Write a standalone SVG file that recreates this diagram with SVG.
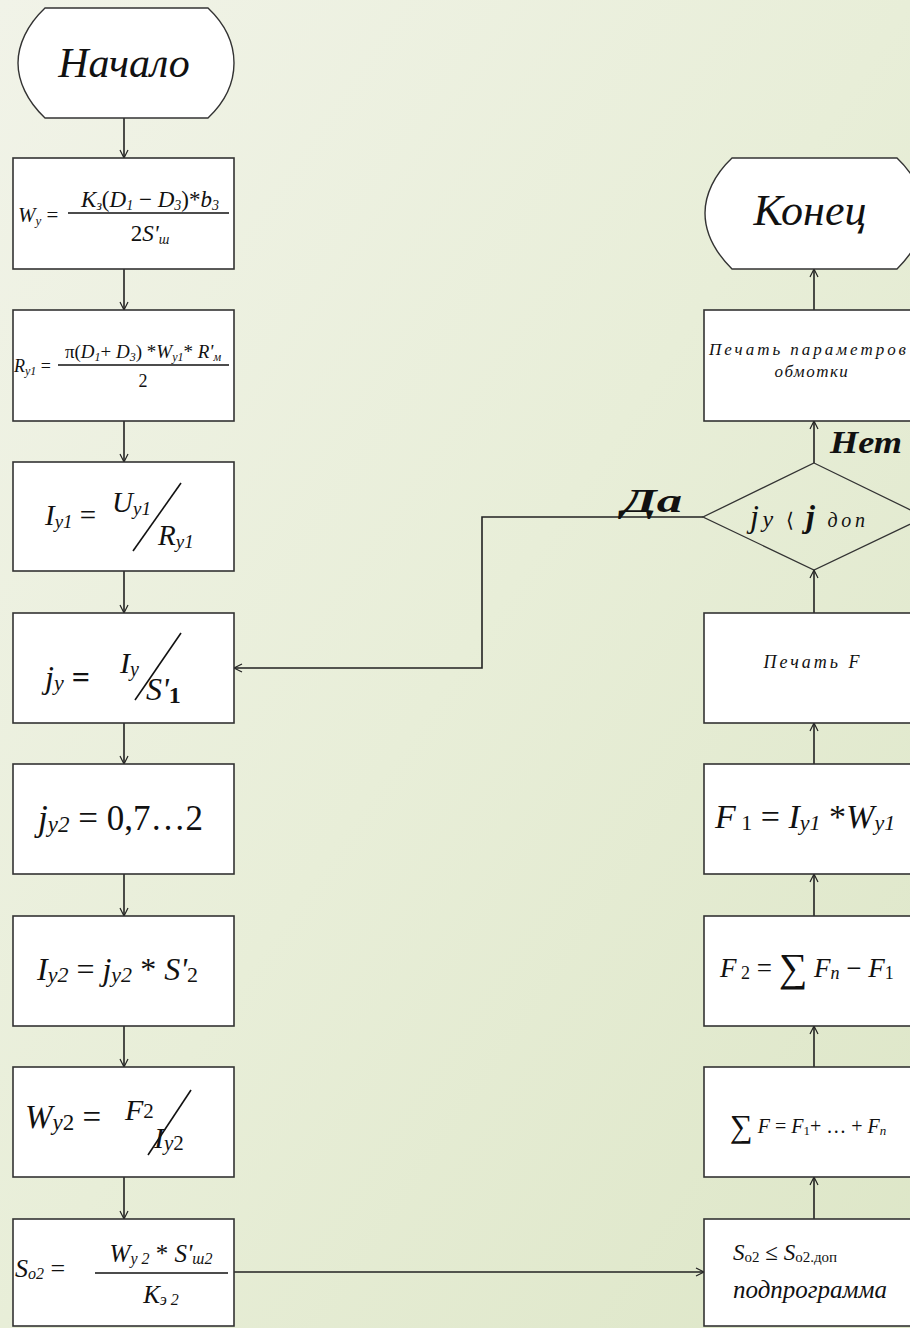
<svg xmlns="http://www.w3.org/2000/svg" width="910" height="1328" viewBox="0 0 910 1328">
<defs>
<linearGradient id="bg" x1="0" y1="0" x2="1" y2="1">
<stop offset="0" stop-color="#f1f3e8"/>
<stop offset="0.5" stop-color="#e8eed8"/>
<stop offset="1" stop-color="#dde6c7"/>
</linearGradient>
<marker id="ah" markerUnits="userSpaceOnUse" markerWidth="12" markerHeight="12" refX="9" refY="5" orient="auto">
<path d="M1,1 L9,5 L1,9" fill="none" stroke="#222" stroke-width="1.2"/>
</marker>
</defs>
<style>
.box{fill:#fff;stroke:#333;stroke-width:1.6}
.term{fill:#fff;stroke:#333;stroke-width:1.4}
.dia{fill:none;stroke:#333;stroke-width:1.3}
.con{fill:none;stroke:#222;stroke-width:1.6;marker-end:url(#ah)}
.ln{stroke:#111;stroke-width:1.6}
text{font-family:"Liberation Serif","Times New Roman",serif;fill:#111}
.it{font-style:italic}
.b{font-weight:bold}
</style>
<rect width="910" height="1328" fill="url(#bg)"/>

<g id="connectors">
<line class="con" x1="124" y1="118" x2="124" y2="158"/>
<line class="con" x1="124" y1="269" x2="124" y2="310"/>
<line class="con" x1="124" y1="421" x2="124" y2="462"/>
<line class="con" x1="124" y1="571" x2="124" y2="613"/>
<line class="con" x1="124" y1="723" x2="124" y2="764"/>
<line class="con" x1="124" y1="874" x2="124" y2="916"/>
<line class="con" x1="124" y1="1026" x2="124" y2="1067"/>
<line class="con" x1="124" y1="1177" x2="124" y2="1219"/>
<line class="con" x1="234" y1="1272" x2="704" y2="1272"/>
<line class="con" x1="814" y1="1219" x2="814" y2="1177"/>
<line class="con" x1="814" y1="1067" x2="814" y2="1026"/>
<line class="con" x1="814" y1="916" x2="814" y2="874"/>
<line class="con" x1="814" y1="764" x2="814" y2="723"/>
<line class="con" x1="814" y1="613" x2="814" y2="570"/>
<line class="con" x1="814" y1="463" x2="814" y2="421"/>
<line class="con" x1="814" y1="310" x2="814" y2="269"/>
<polyline class="con" points="703,517 482,517 482,668 234,668"/>
<text class="it b" x="622" y="512" font-size="34" textLength="60" lengthAdjust="spacingAndGlyphs">Да</text>
<text class="it b" x="830" y="453" font-size="32" textLength="72" lengthAdjust="spacingAndGlyphs">Нет</text>
</g>

<g id="start">
<path class="term" d="M45,8 L208,8 C226,25 234,45 234,63 C234,81 226,101 208,118 L45,118 C27,101 18,81 18,63 C18,45 27,25 45,8 Z"/>
<text class="it" x="124" y="77" font-size="42" text-anchor="middle">Начало</text>
</g>

<g id="box1">
<rect class="box" x="13" y="158" width="221" height="111"/>
<text class="it" x="18" y="222" font-size="21">W<tspan font-size="13" dy="3">y</tspan><tspan dy="-3" font-style="normal"> =</tspan></text>
<text class="it" x="150" y="207" font-size="23" text-anchor="middle">K<tspan font-size="14" dy="3">з</tspan><tspan dy="-3" font-style="normal">(</tspan>D<tspan font-size="14" dy="3">1</tspan><tspan dy="-3" font-style="normal"> − </tspan>D<tspan font-size="14" dy="3">3</tspan><tspan dy="-3" font-style="normal">)*</tspan>b<tspan font-size="14" dy="3">3</tspan></text>
<line class="ln" x1="68" y1="213" x2="229" y2="213"/>
<text class="it" x="150" y="241" font-size="23" text-anchor="middle"><tspan font-style="normal">2</tspan>S'<tspan font-size="14" dy="3">ш</tspan></text>
</g>

<g id="box2">
<rect class="box" x="13" y="310" width="221" height="111"/>
<text class="it" x="14" y="372" font-size="18">R<tspan font-size="12" dy="3">y1</tspan><tspan dy="-3" font-style="normal"> =</tspan></text>
<text class="it" x="143" y="358" font-size="19" text-anchor="middle"><tspan font-style="normal">π(</tspan>D<tspan font-size="12" dy="3">1</tspan><tspan dy="-3" font-style="normal">+ </tspan>D<tspan font-size="12" dy="3">3</tspan><tspan dy="-3" font-style="normal">) *</tspan>W<tspan font-size="12" dy="3">y1</tspan><tspan dy="-3" font-style="normal">* </tspan>R'<tspan font-size="12" dy="3">м</tspan></text>
<line class="ln" x1="58" y1="365" x2="229" y2="365"/>
<text x="143" y="387" font-size="18" text-anchor="middle">2</text>
</g>

<g id="box3">
<rect class="box" x="13" y="462" width="221" height="109"/>
<text class="it" x="45" y="525" font-size="29">I<tspan font-size="19" dy="3">y1</tspan><tspan dy="-3" font-style="normal"> =</tspan></text>
<text class="it" x="112" y="512" font-size="29">U<tspan font-size="19" dy="3">y1</tspan></text>
<line class="ln" x1="133" y1="551" x2="181" y2="483"/>
<text class="it" x="158" y="545" font-size="29">R<tspan font-size="19" dy="3">y1</tspan></text>
</g>

<g id="box4">
<rect class="box" x="13" y="613" width="221" height="110"/>
<text class="it" x="45" y="688" font-size="32">j<tspan font-size="22" dy="2">y</tspan><tspan dy="-2" font-style="normal" font-weight="bold"> =</tspan></text>
<text class="it" x="120" y="673" font-size="30">I<tspan font-size="20" dy="3">y</tspan></text>
<line class="ln" x1="135" y1="700" x2="181" y2="633"/>
<text class="it" x="146" y="700" font-size="32">S'<tspan font-size="24" font-style="normal" font-weight="bold" dy="3">1</tspan></text>
</g>

<g id="box5">
<rect class="box" x="13" y="764" width="221" height="110"/>
<text class="it" x="38" y="830" font-size="35">j<tspan font-size="23" dy="2">y2</tspan><tspan dy="-2" font-style="normal"> = 0,7…2</tspan></text>
</g>

<g id="box6">
<rect class="box" x="13" y="916" width="221" height="110"/>
<text class="it" x="37" y="980" font-size="32">I<tspan font-size="22" dy="2">y2</tspan><tspan dy="-2" font-style="normal"> = </tspan>j<tspan font-size="22" dy="2">y2</tspan><tspan dy="-2" font-style="normal"> * </tspan>S'<tspan font-size="22" font-style="normal" dy="2">2</tspan></text>
</g>

<g id="box7">
<rect class="box" x="13" y="1067" width="221" height="110"/>
<text class="it" x="25" y="1128" font-size="33">W<tspan font-size="23" dy="2">y</tspan><tspan font-size="23" font-style="normal">2</tspan><tspan dy="-2" font-style="normal"> =</tspan></text>
<text class="it" x="125" y="1120" font-size="30">F<tspan font-size="21" font-style="normal" dy="-2">2</tspan></text>
<line class="ln" x1="148" y1="1155" x2="191" y2="1090"/>
<text class="it" x="154" y="1148" font-size="30">I<tspan font-size="21" dy="2">y</tspan><tspan font-size="21" font-style="normal">2</tspan></text>
</g>

<g id="box8">
<rect class="box" x="13" y="1219" width="221" height="107"/>
<text class="it" x="15" y="1277" font-size="26">S<tspan font-size="16" dy="2">o2</tspan><tspan dy="-2" font-style="normal"> =</tspan></text>
<text class="it" x="161" y="1262" font-size="25" text-anchor="middle">W<tspan font-size="16" dy="2">y 2</tspan><tspan dy="-2" font-style="normal"> * </tspan>S'<tspan font-size="16" dy="2">ш2</tspan></text>
<line class="ln" x1="95" y1="1273" x2="228" y2="1273"/>
<text class="it" x="161" y="1303" font-size="25" text-anchor="middle">K<tspan font-size="16" dy="2">э 2</tspan></text>
</g>

<g id="end">
<path class="term" d="M732,158 L897,158 C915,175 924,195 924,213 C924,231 915,251 897,269 L732,269 C714,251 705,231 705,213 C705,195 714,175 732,158 Z"/>
<text class="it" x="810" y="225" font-size="44" text-anchor="middle">Конец</text>
</g>

<g id="print-params">
<rect class="box" x="704" y="310" width="221" height="111"/>
<text class="it" x="709" y="355" font-size="17" textLength="197" lengthAdjust="spacing">Печать параметров</text>
<text class="it" x="812" y="377" font-size="17" text-anchor="middle" letter-spacing="1.5">обмотки</text>
</g>

<g id="decision">
<polygon class="dia" points="814,463 925,517 814,570 703,517"/>
<text class="it" x="750" y="527" font-size="32" textLength="115" lengthAdjust="spacing">j<tspan font-size="24">y</tspan><tspan font-style="normal" font-size="20"> ⟨ </tspan><tspan font-weight="bold">j</tspan><tspan font-size="20"> доп</tspan></text>
</g>

<g id="print-F">
<rect class="box" x="704" y="613" width="221" height="110"/>
<text class="it" x="813" y="668" font-size="18" text-anchor="middle" letter-spacing="3">Печать F</text>
</g>

<g id="boxF1">
<rect class="box" x="704" y="764" width="221" height="110"/>
<text class="it" x="715" y="828" font-size="34">F<tspan font-size="22" font-style="normal" dy="2"> 1</tspan><tspan dy="-2" font-style="normal"> = </tspan>I<tspan font-size="22" dy="2">y1</tspan><tspan dy="-2" font-style="normal"> *</tspan>W<tspan font-size="22" dy="2">y1</tspan></text>
</g>

<g id="boxF2">
<rect class="box" x="704" y="916" width="221" height="110"/>
<text class="it" x="720" y="977" font-size="27">F<tspan font-size="18" font-style="normal" dy="2"> 2</tspan><tspan dy="-2" font-style="normal"> = </tspan><tspan font-style="normal" font-size="40" dy="4">∑</tspan><tspan dy="-4"> F</tspan><tspan font-size="18" dy="2">n</tspan><tspan dy="-2" font-style="normal"> − </tspan>F<tspan font-size="18" font-style="normal" dy="2">1</tspan></text>
</g>

<g id="boxSumF">
<rect class="box" x="704" y="1067" width="221" height="110"/>
<text class="it" x="730" y="1133" font-size="20"><tspan font-style="normal" font-size="32" dy="4">∑</tspan><tspan dy="-4"> F</tspan><tspan font-style="normal"> = </tspan>F<tspan font-size="13" font-style="normal" dy="2">1</tspan><tspan dy="-2" font-style="normal">+ … + </tspan>F<tspan font-size="13" dy="2">n</tspan></text>
</g>

<g id="subprogram">
<rect class="box" x="704" y="1219" width="221" height="107"/>
<text class="it" x="733" y="1260" font-size="23">S<tspan font-size="15" font-style="normal" dy="2">o2</tspan><tspan dy="-2" font-style="normal"> ≤ </tspan>S<tspan font-size="15" font-style="normal" dy="2">o2.доп</tspan></text>
<text class="it" x="733" y="1298" font-size="25">подпрограмма</text>
</g>
</svg>
